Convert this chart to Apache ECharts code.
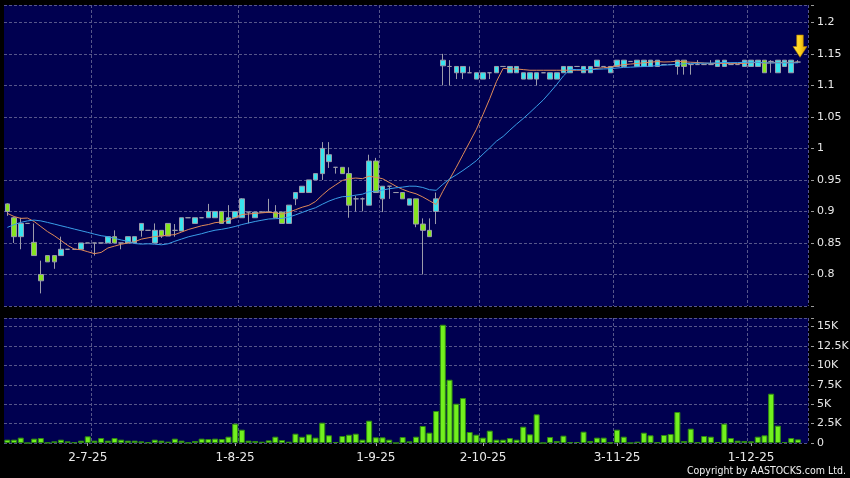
<!DOCTYPE html>
<html><head><meta charset="utf-8">
<script src="https://cdn.jsdelivr.net/npm/echarts@6/dist/echarts.min.js"></script>
<style>html,body{margin:0;padding:0;background:#000;}#c{width:850px;height:478px;}</style>
</head><body><div id="c"></div>
<script>
// ---- data ----
const dates = [
'13-6-25','16-6-25','17-6-25','18-6-25','19-6-25','20-6-25','23-6-25','24-6-25','25-6-25','26-6-25','27-6-25','30-6-25',
'2-7-25','3-7-25','4-7-25','7-7-25','8-7-25','9-7-25','10-7-25','11-7-25','14-7-25','15-7-25','16-7-25','17-7-25','18-7-25','21-7-25','22-7-25','23-7-25','24-7-25','25-7-25','28-7-25','29-7-25','30-7-25','31-7-25',
'1-8-25','4-8-25','5-8-25','6-8-25','7-8-25','8-8-25','11-8-25','12-8-25','13-8-25','14-8-25','15-8-25','18-8-25','19-8-25','20-8-25','21-8-25','22-8-25','25-8-25','26-8-25','27-8-25','28-8-25','29-8-25',
'1-9-25','2-9-25','3-9-25','4-9-25','5-9-25','8-9-25','9-9-25','10-9-25','11-9-25','12-9-25',
'23-9-25','24-9-25','25-9-25','26-9-25','29-9-25','30-9-25',
'2-10-25','3-10-25','6-10-25','8-10-25','9-10-25','10-10-25','13-10-25','14-10-25','15-10-25','16-10-25','17-10-25','20-10-25','21-10-25','22-10-25','23-10-25','24-10-25','27-10-25','28-10-25','30-10-25','31-10-25',
'3-11-25','4-11-25','5-11-25','6-11-25','7-11-25','10-11-25','11-11-25','12-11-25','13-11-25','14-11-25','17-11-25','18-11-25','19-11-25','20-11-25','21-11-25','24-11-25','25-11-25','26-11-25','27-11-25','28-11-25',
'1-12-25','2-12-25','3-12-25','4-12-25','5-12-25','8-12-25','9-12-25','10-12-25',
''
];
const tickLabels = ['2-7-25','1-8-25','1-9-25','2-10-25','3-11-25','1-12-25'];

const opens = [
.912,.890,.860,.881,.851,.800,.830,.830,.830,.840,
.840,.840,.850,.850,.850,.850,.860,.850,.850,.850,
.870,.870,.850,.870,.881,.870,.869,.890,.881,.890,
.890,.890,.900,.881,.890,.890,.899,.890,.899,.899,
.899,.899,.881,.920,.930,.930,.950,.960,.979,.970,
.970,.960,.920,.920,.910,.980,.920,.940,.930,.930,
.910,.920,.880,.870,.900,1.131,1.130,1.120,1.120,1.120,
1.110,1.110,1.120,1.120,1.130,1.120,1.120,1.110,1.110,1.110,
1.120,1.110,1.110,1.120,1.120,1.130,1.120,1.120,1.130,1.130,
1.120,1.130,1.130,1.138,1.130,1.130,1.130,1.130,1.133,1.133,
1.130,1.140,1.133,1.133,1.133,1.133,1.130,1.130,1.133,1.133,
1.130,1.130,1.130,1.140,1.138,1.120,1.130,1.120,1.137];
const closes = [
.900,.860,.881,.881,.830,.790,.820,.820,.840,.840,
.840,.850,.850,.850,.850,.860,.850,.850,.860,.860,
.881,.870,.870,.861,.861,.870,.890,.890,.890,.890,
.900,.900,.881,.890,.900,.920,.899,.899,.899,.899,
.890,.881,.910,.930,.940,.950,.960,1.000,.990,.970,
.960,.910,.920,.920,.980,.930,.940,.940,.930,.920,
.920,.880,.870,.860,.920,1.140,1.130,1.130,1.130,1.120,
1.120,1.120,1.120,1.130,1.130,1.130,1.130,1.120,1.120,1.120,
1.120,1.120,1.120,1.130,1.130,1.130,1.130,1.130,1.140,1.130,
1.130,1.140,1.140,1.138,1.140,1.140,1.140,1.140,1.133,1.133,
1.140,1.130,1.133,1.133,1.133,1.133,1.140,1.140,1.133,1.133,
1.140,1.140,1.140,1.120,1.138,1.140,1.140,1.140,1.137];
const lows = [
.893,.850,.840,.881,.830,.770,.820,.809,.830,.840,
.840,.840,.850,.830,.850,.850,.850,.840,.850,.850,
.860,.870,.850,.858,.861,.860,.869,.890,.881,.890,
.890,.890,.881,.881,.890,.890,.881,.890,.899,.899,
.890,.881,.881,.910,.930,.930,.950,.950,.969,.960,
.960,.890,.900,.900,.910,.930,.899,.920,.930,.920,
.910,.875,.800,.860,.880,1.100,1.100,1.110,1.110,1.120,
1.110,1.110,1.110,1.120,1.130,1.120,1.120,1.110,1.110,1.100,
1.120,1.110,1.110,1.120,1.120,1.130,1.120,1.120,1.130,1.130,
1.120,1.130,1.130,1.138,1.130,1.130,1.130,1.130,1.133,1.133,
1.117,1.117,1.117,1.133,1.133,1.133,1.130,1.130,1.133,1.133,
1.130,1.130,1.130,1.120,1.120,1.120,1.130,1.120,1.137];
const highs = [
.913,.891,.890,.881,.881,.822,.830,.830,.860,.840,
.840,.850,.850,.850,.850,.860,.870,.850,.860,.860,
.881,.870,.881,.870,.881,.880,.890,.890,.890,.890,
.912,.900,.900,.910,.900,.921,.899,.899,.899,.920,
.910,.899,.910,.930,.940,.950,.960,1.010,1.010,.970,
.970,.970,.925,.922,.990,.985,.940,.940,.930,.930,
.920,.920,.889,.889,.930,1.150,1.140,1.130,1.130,1.130,
1.120,1.120,1.120,1.130,1.130,1.130,1.130,1.120,1.120,1.120,
1.120,1.120,1.120,1.130,1.130,1.130,1.130,1.130,1.140,1.130,
1.130,1.140,1.140,1.138,1.140,1.140,1.140,1.140,1.133,1.133,
1.140,1.140,1.133,1.140,1.133,1.140,1.140,1.140,1.133,1.133,
1.140,1.140,1.140,1.140,1.140,1.140,1.140,1.140,1.140];
const volumes = [
430,430,690,0,560,640,40,215,430,215,
85,300,860,300,640,300,640,430,300,300,
215,85,430,300,170,560,300,40,260,560,
515,560,515,815,2490,1715,300,260,170,340,
815,385,170,1200,800,1115,690,2620,990,130,
900,1070,1200,430,2875,730,730,430,0,770,
215,815,2190,1330,4120,15230,8150,5060,5790,1415,
1070,690,1590,430,430,640,430,2100,1115,3690,
0,770,260,945,85,130,1460,260,690,690,
50,1715,815,0,170,1330,990,85,1030,1160,
3990,260,1845,85,900,815,130,2490,640,300,
260,215,815,990,6350,2230,130,640,470];
const ma10 = [
.897,.892,.889,.8895,.884,.876,.868,.8615,.854,
.8462,.8402,.8392,.8361,.8330,.8350,.8420,.8450,.8480,.8500,
.8520,.8561,.8581,.8601,.8612,.8623,.8633,.8673,.8713,.8743,
.8773,.8792,.8822,.8833,.8862,.8901,.8951,.8960,.8969,.8978,
.8987,.8977,.8958,.8987,.9027,.9067,.9097,.9158,.9259,.9350,
.9421,.9491,.9520,.9530,.9520,.9560,.9540,.9520,.9460,.9400,
.9350,.9310,.9280,.9230,.9170,.9110,.9320,.9510,.9700,.9900,
1.0100,1.0300,1.0540,1.0790,1.1060,1.1270,1.1260,1.1260,1.1250,1.1240,
1.1240,1.1240,1.1240,1.1240,1.1240,1.1240,1.1240,1.1240,1.1250,1.1270,
1.1280,1.1290,1.1310,1.1330,1.1338,1.1348,1.1358,1.1368,1.1378,1.1371,
1.1374,1.1384,1.1374,1.1367,1.1362,1.1355,1.1348,1.1348,1.1348,1.1348,
1.1348,1.1348,1.1358,1.1365,1.1352,1.1357,1.1364,1.1364,1.1364,1.1368];
const ma20 = [
.8747,.879,.8826,.885,.8863,.885,.8826,.880,.8773,.8747,
.872,.8694,.8668,.864,.8615,.860,.8573,.8547,.8526,.8491,
.8482,.8487,.8481,.8471,.8487,.8527,.8562,.8597,.8622,.8647,
.8677,.8702,.8717,.8737,.8762,.8792,.8817,.8841,.8861,.8880,
.8885,.8890,.8910,.8945,.8984,.9024,.9059,.9114,.9164,.9204,
.9234,.9239,.9259,.9274,.9314,.9319,.9339,.9360,.9375,.9386,
.9401,.9400,.9380,.9345,.9335,.9430,.9515,.9580,.9650,.9725,
.9805,.9910,1.0010,1.0115,1.0190,1.0290,1.0385,1.0475,1.0570,1.0670,
1.0770,1.0890,1.1015,1.1150,1.1255,1.1250,1.1250,1.1250,1.1255,1.1260,
1.1265,1.1275,1.1285,1.1289,1.1294,1.1299,1.1304,1.1314,1.1321,1.1327,
1.1337,1.1342,1.1349,1.1350,1.1352,1.1353,1.1358,1.1363,1.1360,1.1361,
1.1366,1.1366,1.1366,1.1357,1.1356,1.1356,1.1356,1.1356,1.1358];

// ---- chart ----
const candleData = opens.map((o, i) => [o, closes[i], lows[i], highs[i]]);
const splitIdx = [13, 35, 56, 71, 91, 111];
const gridLineColor = '#56568a';
const labelColor = '#e8e8e8';
const fontFam = '"DejaVu Sans", Verdana, sans-serif';

function priceFmt(v) {
  const r = Math.round(v * 100) / 100;
  if (Math.abs(r * 20 - Math.round(r * 20)) > 1e-6) return '';
  if (r < 0.79 || r > 1.21) return '';
  return String(r);
}
function volFmt(v) {
  if (v % 2500 !== 0) return '';
  if (v === 0) return '0';
  return (v / 1000) + 'K';
}

const xCommon = {
  type: 'category', data: dates, boundaryGap: true,
  axisLine: { show: false },
  splitLine: { show: true, interval: (i) => splitIdx.includes(i),
    lineStyle: { color: gridLineColor, type: [3, 2], width: 1 } }
};

const chart = echarts.init(document.getElementById('c'), null, { renderer: 'canvas' });
chart.setOption({
  animation: false,
  backgroundColor: '#000000',
  grid: [
    { left: 4, top: 5, width: 804, height: 301, show: true, backgroundColor: '#000050', borderWidth: 0, containLabel: false, outerBoundsMode: 'none' },
    { left: 4, top: 318, width: 804, height: 125, show: true, backgroundColor: '#000050', borderWidth: 0, containLabel: false, outerBoundsMode: 'none' }
  ],
  xAxis: [
    Object.assign({}, xCommon, { gridIndex: 0, axisLabel: { show: false }, axisTick: { show: false } }),
    Object.assign({}, xCommon, { gridIndex: 1, offset: 3,
      axisTick: { show: true, alignWithLabel: true, length: 3, interval: (i, v) => tickLabels.includes(v),
        lineStyle: { color: '#9a9a9a' } },
      axisLabel: { show: true, interval: (i, v) => tickLabels.includes(v), color: labelColor,
        fontFamily: fontFam, fontSize: 12, margin: 6 } })
  ],
  yAxis: [
    { type: 'value', gridIndex: 0, position: 'right', min: 0.75, max: 1.2275, interval: 0.05, offset: 3,
      axisLine: { show: false },
      axisTick: { show: true, length: 3, lineStyle: { color: '#9a9a9a' } },
      axisLabel: { formatter: priceFmt, color: labelColor, fontFamily: fontFam, fontSize: 11, margin: 6 },
      splitLine: { show: true, lineStyle: { color: gridLineColor, type: [3, 2], width: 1 } } },
    { type: 'value', gridIndex: 1, position: 'right', min: 0, max: 16100, interval: 2500, offset: 3,
      axisLine: { show: false },
      axisTick: { show: true, length: 3, lineStyle: { color: '#9a9a9a' } },
      axisLabel: { formatter: volFmt, color: labelColor, fontFamily: fontFam, fontSize: 11, margin: 6 },
      splitLine: { show: true, lineStyle: { color: gridLineColor, type: [3, 2], width: 1 } } }
  ],
  series: [
    { type: 'candlestick', xAxisIndex: 0, yAxisIndex: 0, data: candleData, barWidth: 5,
      itemStyle: { color: '#38e4ee', color0: '#86e420', borderColor: '#9c9cab', borderColor0: '#9c9cab', borderWidth: 1 } },
    { type: 'line', xAxisIndex: 0, yAxisIndex: 0, data: ma10, showSymbol: false, symbol: 'none',
      lineStyle: { color: '#e08a58', width: 1 }, z: 3 },
    { type: 'line', xAxisIndex: 0, yAxisIndex: 0, data: ma20, showSymbol: false, symbol: 'none',
      lineStyle: { color: '#3a9ee8', width: 1 }, z: 3 },
    { type: 'bar', xAxisIndex: 1, yAxisIndex: 1, data: volumes, barWidth: 6,
      itemStyle: { color: '#72f01e', borderColor: '#2f8a12', borderWidth: 1 } }
  ],
  graphic: [
    { type: 'polygon', z: 100,
      shape: { points: [[796.7, 35], [803.3, 35], [803.3, 46.5], [807, 46.5], [800, 57.3], [793, 46.5], [796.7, 46.5]] },
      style: { fill: new echarts.graphic.LinearGradient(0, 0, 1, 0, [
        { offset: 0, color: '#ffe84a' }, { offset: 0.5, color: '#ffd21a' }, { offset: 1, color: '#d89a00' }]),
        stroke: '#b07800', lineWidth: 0.6 } },
    { type: 'text', z: 100, x: 846, y: 471,
      style: { text: 'Copyright by AASTOCKS.com Ltd.', fill: '#f0f0f0', align: 'right', verticalAlign: 'middle',
        font: '10.5px "DejaVu Sans Condensed", "DejaVu Sans", sans-serif' } }
  ]
});
</script>
</body></html>
